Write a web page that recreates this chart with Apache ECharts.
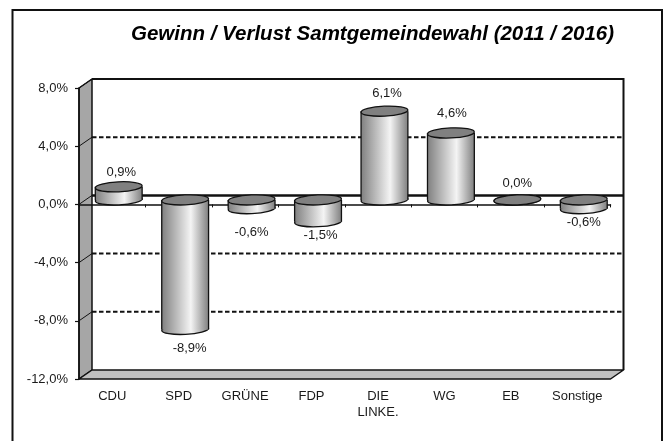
<!DOCTYPE html>
<html>
<head>
<meta charset="utf-8">
<style>
  html, body { margin: 0; padding: 0; background: #fff; }
  #chart { width: 667px; height: 441px; }
</style>
<script src="https://cdn.jsdelivr.net/npm/echarts@6/dist/echarts.min.js"></script>
</head>
<body>
<div id="chart"></div>
<script>
const categories = ["CDU", "SPD", "GRÜNE", "FDP", "DIE\nLINKE.", "WG", "EB", "Sonstige"];
const changes = [0.9, -8.9, -0.6, -1.5, 6.1, 4.6, 0.0, -0.6];
const gridValues = [8, 4, 0, -4, -8];
// hand placed data labels in the original
const labelGaps = [14, 19, 24, 14, 18, 20, 16, 14];
const labelShifts = [2.5, 4.5, 0, 2.5, 2.5, 1, 0, 0];

const fontFamily = '"Liberation Sans", Arial, sans-serif';
const textColor = "#1a1a1a";
// fake 3D: how far the back wall is moved from the front plane
const depthX = 13;
const depthY = -9;

function percent(v) {
  return v.toFixed(1).replace(".", ",") + "%";
}

function renderWalls(params) {
  const g = params.coordSys;
  const left = g.x, top = g.y, right = g.x + g.width, bottom = g.y + g.height;
  const stroke = { stroke: "#111", lineWidth: 1.5, lineJoin: "round" };
  return {
    type: "group",
    children: [
      { type: "polyline", shape: { points: [[left + depthX, top + depthY], [right + depthX, top + depthY], [right + depthX, bottom + depthY]] }, style: { fill: null, stroke: "#111", lineWidth: 2 } },
      { type: "polygon", shape: { points: [[left, top], [left + depthX, top + depthY], [left + depthX, bottom + depthY], [left, bottom]] }, style: Object.assign({ fill: "#a6a6a6" }, stroke) },
      { type: "polygon", shape: { points: [[left, bottom], [left + depthX, bottom + depthY], [right + depthX, bottom + depthY], [right, bottom]] }, style: Object.assign({ fill: "#c0c0c0" }, stroke) }
    ]
  };
}

function renderGridLine(params, api) {
  const g = params.coordSys;
  const y = api.coord([0, api.value(1)])[1];
  const isZero = api.value(1) === 0;
  return {
    type: "group",
    children: [
      { type: "line", shape: { x1: g.x, y1: y, x2: g.x + depthX, y2: y + depthY }, style: { stroke: "#111", lineWidth: 1 } },
      {
        type: "line",
        shape: { x1: g.x + depthX, y1: y + depthY, x2: g.x + g.width + depthX, y2: y + depthY },
        style: { stroke: "#111", lineWidth: isZero ? 2.5 : 2, lineDash: isZero ? null : [4.5, 2.5] }
      }
    ]
  };
}

function renderCylinder(params, api) {
  const i = params.dataIndex;
  const v = api.value(1);
  const offX = depthX / 2, offY = depthY / 2;
  const topPt = api.coord([i, Math.max(v, 0)]);
  const botPt = api.coord([i, Math.min(v, 0)]);
  const w = api.size([1, 0])[0] * 0.705;
  const cx = topPt[0] + offX;
  const yTop = topPt[1] + offY;
  const yBot = botPt[1] + offY;
  const rx = w / 2, ry = 5, tilt = 0.045;
  const shade = {
    type: "linear", x: 0, y: 0, x2: 1, y2: 0,
    colorStops: [
      { offset: 0, color: "#808080" },
      { offset: 0.62, color: "#f4f4f4" },
      { offset: 1, color: "#808080" }
    ]
  };
  const labelY = v >= 0 ? yTop - labelGaps[i] : yBot + labelGaps[i];
  const lineStyle = { stroke: "#111", lineWidth: 1.3 };
  return {
    type: "group",
    children: [
      { type: "ellipse", originX: cx, originY: yBot, rotation: tilt, shape: { cx: cx, cy: yBot, rx: rx, ry: ry }, style: Object.assign({ fill: shade }, lineStyle) },
      { type: "rect", shape: { x: cx - rx, y: yTop, width: w, height: yBot - yTop }, style: { fill: shade } },
      { type: "line", shape: { x1: cx - rx, y1: yTop, x2: cx - rx, y2: yBot }, style: lineStyle },
      { type: "line", shape: { x1: cx + rx, y1: yTop, x2: cx + rx, y2: yBot }, style: lineStyle },
      { type: "ellipse", originX: cx, originY: yTop, rotation: tilt, shape: { cx: cx, cy: yTop, rx: rx, ry: ry }, style: Object.assign({ fill: "#808080" }, lineStyle) },
      {
        type: "text",
        x: cx + labelShifts[i],
        y: labelY,
        style: { text: percent(v), fill: textColor, font: "13px " + fontFamily, align: "center", verticalAlign: "middle" }
      }
    ]
  };
}

const myChart = echarts.init(document.getElementById("chart"));
const option = {
  animation: false,
  backgroundColor: "#fff",
  title: {
    text: "Gewinn / Verlust Samtgemeindewahl (2011 / 2016)",
    left: 126,
    top: 19,
    textStyle: { fontFamily: fontFamily, fontSize: 20.5, fontWeight: "bold", fontStyle: "italic", color: "#000" }
  },
  // outer frame runs off the bottom of the page
  graphic: [{
    type: "polyline",
    silent: true,
    shape: { points: [[12.5, 445], [12.5, 10], [662, 10], [662, 445]] },
    style: { fill: null, stroke: "#111", lineWidth: 2 }
  }],
  grid: { left: 79, top: 88, width: 531.5, height: 291 },
  xAxis: [
    {
      type: "category",
      data: categories,
      position: "bottom",
      axisLine: { show: false, onZero: false },
      axisTick: { show: false },
      axisLabel: { interval: 0, margin: 9, color: textColor, fontFamily: fontFamily, fontSize: 13, lineHeight: 16 }
    },
    {
      type: "category",
      data: categories,
      position: "top",
      axisLine: { onZero: true, lineStyle: { color: "#111", width: 1.5 } },
      axisTick: { show: true, inside: true, length: 3, lineStyle: { color: "#111" } },
      axisLabel: { show: false }
    }
  ],
  yAxis: {
    type: "value",
    min: -12,
    max: 8,
    interval: 4,
    splitLine: { show: false },
    axisLine: { show: true, onZero: false, lineStyle: { color: "#111", width: 1.5 } },
    axisTick: { show: true, length: 4, lineStyle: { color: "#111", width: 1.2 } },
    axisLabel: { margin: 11, color: textColor, fontFamily: fontFamily, fontSize: 13, formatter: percent }
  },
  series: [
    { type: "custom", name: "walls", z: -3, silent: true, data: [[0, 0]], clip: false, renderItem: renderWalls },
    { type: "custom", name: "gridlines", z: -2, silent: true, data: gridValues.map(function (v) { return [0, v]; }), clip: false, renderItem: renderGridLine },
    { type: "custom", name: "Gewinn / Verlust", z: 3, data: changes.map(function (v, i) { return [i, v]; }), clip: false, renderItem: renderCylinder }
  ]
};
myChart.setOption(option);
</script>
</body>
</html>
